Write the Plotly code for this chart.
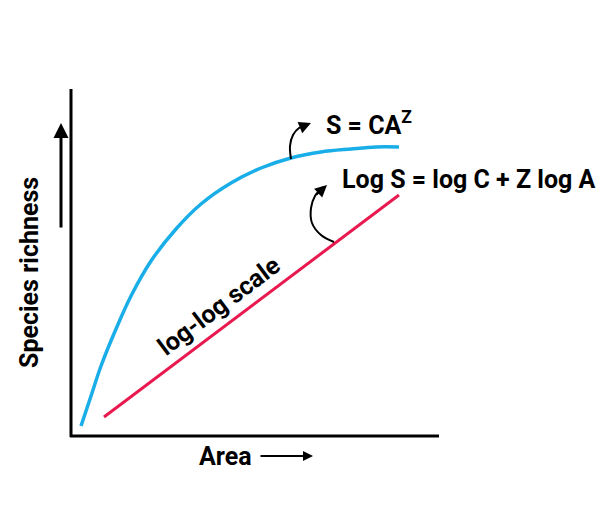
import plotly.graph_objects as go

# values (pixel-space of the diagram)
curve_x = [80, 90, 100, 115, 130, 150, 175, 200, 230, 260, 290, 320, 350, 375, 398]
curve_y = [425, 395, 365, 328, 295, 260, 228, 203, 182, 167, 157, 151, 148, 146, 146]
line_x = [103, 398]
line_y = [416, 194]
arrow1_x = [290, 289, 292, 298, 306]
arrow1_y = [158, 145, 134, 127, 124]
arrow2_x = [333, 320, 311, 310, 314, 322]
arrow2_y = [241, 234, 222, 207, 195, 186]

fig = go.Figure()
fig.add_trace(go.Scatter(x=curve_x, y=curve_y, mode="lines", line=dict(color="#1aaee8", width=3.5, shape="spline")))
fig.add_trace(go.Scatter(x=line_x, y=line_y, mode="lines", line=dict(color="#e8194f", width=3)))
for ax_, ay_ in [(arrow1_x, arrow1_y), (arrow2_x, arrow2_y)]:
    fig.add_trace(go.Scatter(x=ax_, y=ay_, mode="lines", line=dict(color="black", width=2, shape="spline")))
    fig.add_annotation(x=ax_[-1] + 4, y=ay_[-1] - 2, ax=ax_[-2], ay=ay_[-2], xref="x", yref="y", axref="x", ayref="y",
                       showarrow=True, arrowhead=2, arrowsize=1.2, arrowwidth=2, arrowcolor="black", text="")

fig.add_shape(type="line", x0=70, y0=88, x1=70, y1=436, line=dict(color="black", width=3))
fig.add_shape(type="line", x0=69, y0=435, x1=438, y1=435, line=dict(color="black", width=3))
fig.add_annotation(x=60, y=122, ax=60, ay=228, xref="x", yref="y", axref="x", ayref="y", showarrow=True,
                   arrowhead=2, arrowsize=1, arrowwidth=3, arrowcolor="black", text="")
fig.add_annotation(x=312, y=455, ax=258, ay=455, xref="x", yref="y", axref="x", ayref="y", showarrow=True,
                   arrowhead=2, arrowsize=1, arrowwidth=2, arrowcolor="black", text="")

f = dict(family="Roboto", color="black", size=25)
fig.add_annotation(x=224, y=455, text="<b>Area</b>", showarrow=False, font=f)
fig.add_annotation(x=28, y=272, text="<b>Species richness</b>", textangle=-90, showarrow=False, font=f)
fig.add_annotation(x=368, y=122, text="<b>S = CA<sup>Z</sup></b>", showarrow=False, font=f)
fig.add_annotation(x=468, y=178, text="<b>Log S = log C + Z log A</b>", showarrow=False, font=f)
fig.add_annotation(x=217, y=305, text="<b>log-log scale</b>", textangle=-37, showarrow=False, font=f)

fig.update_layout(width=605, height=514, autosize=False, margin=dict(l=0, r=0, t=0, b=0, pad=0), showlegend=False,
                  plot_bgcolor="white", paper_bgcolor="white",
                  xaxis=dict(range=[7, 612], visible=False),
                  yaxis=dict(range=[521, 7], visible=False))
fig.write_html("out.html")
